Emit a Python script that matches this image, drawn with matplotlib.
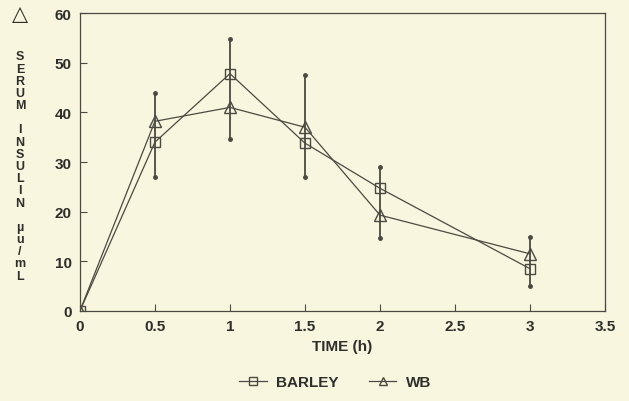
import matplotlib
matplotlib.use('Agg')
import matplotlib.pyplot as plt
from matplotlib.lines import Line2D

plt.rcParams['font.family'] = ['Liberation Sans', 'DejaVu Sans']

time_h = [0, 0.5, 1, 1.5, 2, 3]
barley = [0, 34.0, 47.8, 33.8, 24.7, 8.5]
wb = [0, 38.2, 41.0, 37.0, 19.3, 11.5]
# vertical spread bars at each sampling time (low end, high end)
bar_time = [0.5, 1, 1.5, 2, 3]
bar_low = [27.0, 34.6, 27.0, 14.7, 5.0]
bar_high = [43.8, 54.8, 47.5, 29.0, 14.8]

xticks = [0, 0.5, 1, 1.5, 2, 2.5, 3, 3.5]
xtick_labels = ['0', '0.5', '1', '1.5', '2', '2.5', '3', '3.5']
yticks = [0, 10, 20, 30, 40, 50, 60]

bg = '#f8f6df'
ink = '#4a4a42'
txt = '#2e2e2a'

fig = plt.figure(figsize=(6.29, 4.02), dpi=100, facecolor=bg)
ax = fig.add_axes([0.127, 0.224, 0.835, 0.741], facecolor=bg)

ax.vlines(bar_time, bar_low, bar_high, color=ink, lw=1.3, zorder=2)
ax.plot(bar_time, bar_low, 'o', color=ink, ms=2.5, zorder=2)
ax.plot(bar_time, bar_high, 'o', color=ink, ms=2.5, zorder=2)

ax.plot(time_h, barley, color=ink, lw=0.9, marker='s', ms=7.5, mfc='none',
        mec=ink, mew=1.0, zorder=3)
ax.plot(time_h, wb, color=ink, lw=0.9, marker='^', ms=8.5, mfc='none',
        mec=ink, mew=1.0, zorder=3)

ax.set_xlim(0, 3.5)
ax.set_ylim(0, 60)
ax.set_xticks(xticks)
ax.set_xticklabels(xtick_labels)
ax.set_yticks(yticks)
ax.tick_params(direction='in', length=5, width=0.8, color=ink,
               labelsize=11, labelcolor=txt, pad=6)
for lab in ax.get_xticklabels() + ax.get_yticklabels():
    lab.set_fontweight('bold')
for s in ax.spines.values():
    s.set_color(ink)
    s.set_linewidth(0.9)

ax.set_xlabel('TIME (h)', fontsize=11, fontweight='bold', color=txt, labelpad=4)

# stacked vertical y-axis label
fig.text(20 / 629, 1 - 14 / 402, '\u25b3', fontsize=15, color=txt,
         ha='center', va='center', family=['DejaVu Sans'])
ylab = 'SERUM INSULIN \u00b5u/mL'
fig.text(20 / 629, 1 - 167 / 402, '\n'.join(ylab), fontsize=9, fontweight='bold',
         color=txt, ha='center', va='center', linespacing=1.02)

handles = [
    Line2D([], [], color=ink, lw=0.9, marker='s', ms=6, mfc='none', mec=ink),
    Line2D([], [], color=ink, lw=0.9, marker='^', ms=6, mfc='none', mec=ink),
]
leg = fig.legend(handles, ['BARLEY', 'WB'], loc='center', ncol=2,
                 bbox_to_anchor=(335 / 629, 1 - 383 / 402), frameon=False,
                 handlelength=1.8, columnspacing=2.0, handletextpad=0.6,
                 prop={'weight': 'bold', 'size': 11})
for t in leg.get_texts():
    t.set_color(txt)

fig.savefig('out.png', dpi=100, facecolor=bg)
